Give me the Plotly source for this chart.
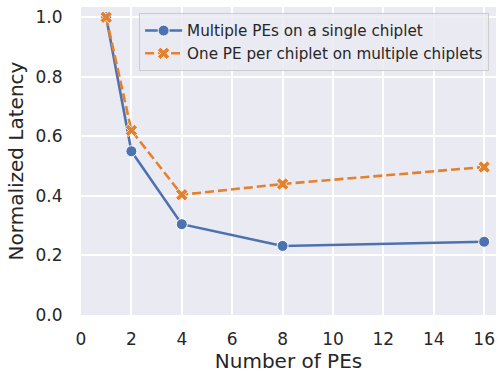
import plotly.graph_objects as go

num_pes = [1, 2, 4, 8, 16]
single_chiplet = [1.0, 0.55, 0.305, 0.232, 0.246]
multi_chiplet = [1.0, 0.62, 0.404, 0.44, 0.497]
x_ticks = [0, 2, 4, 6, 8, 10, 12, 14, 16]
y_ticks = [0.0, 0.2, 0.4, 0.6, 0.8, 1.0]

BLUE = "#4c72b0"
ORANGE = "#e5812e"
TXT = "#262626"
FONT = "DejaVu Sans"

fig = go.Figure()
fig.add_trace(go.Scatter(
    x=num_pes, y=single_chiplet, mode="lines+markers",
    name="Multiple PEs on a single chiplet",
    line=dict(color=BLUE, width=2.6),
    marker=dict(symbol="circle", size=11, color=BLUE, line=dict(color="white", width=1)),
))
fig.add_trace(go.Scatter(
    x=num_pes, y=multi_chiplet, mode="lines+markers",
    name="One PE per chiplet on multiple chiplets",
    line=dict(color=ORANGE, width=2.6, dash="9px,4px"),
    marker=dict(symbol="x", size=11, color=ORANGE, line=dict(color="white", width=0.8)),
))

fig.update_layout(
    width=498, height=377,
    margin=dict(l=81, r=2, t=7, b=62, autoexpand=False),
    paper_bgcolor="white",
    plot_bgcolor="#eaeaf2",
    font=dict(family=FONT, color=TXT, size=17),
    showlegend=True,
    legend=dict(
        x=0.14, y=0.98, xanchor="left", yanchor="top",
        bgcolor="rgba(234,234,242,0.8)", bordercolor="#cccccc", borderwidth=1,
        font=dict(family=FONT, size=15.2, color=TXT),
        tracegroupgap=0, itemwidth=37,
    ),
    xaxis=dict(
        range=[0, 16.47], tickvals=x_ticks, ticktext=[str(v) for v in x_ticks],
        showgrid=True, gridcolor="white", gridwidth=1.5, zeroline=False,
        ticks="outside", ticklen=9, tickcolor="rgba(0,0,0,0)",
        tickfont=dict(size=17, color=TXT),
        title=dict(text="Number of PEs", font=dict(size=20, color=TXT), standoff=4),
        showline=False, automargin=False,
    ),
    yaxis=dict(
        range=[0, 1.0345], tickvals=y_ticks, ticktext=[f"{v:.1f}" for v in y_ticks],
        showgrid=True, gridcolor="white", gridwidth=1.5, zeroline=False,
        ticks="outside", ticklen=14, tickcolor="rgba(0,0,0,0)",
        tickfont=dict(size=17, color=TXT),
        title=dict(text="Normalized Latency", font=dict(size=20, color=TXT), standoff=6),
        showline=False, automargin=False,
    ),
)

fig.write_html(
    "out.html",
    config={"displayModeBar": False},
    post_script="document.body.style.margin='0';document.body.style.padding='0';",
)
